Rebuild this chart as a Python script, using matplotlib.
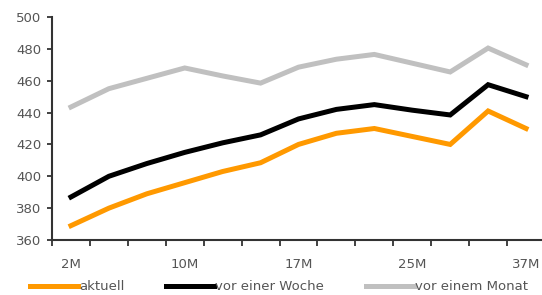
import matplotlib
matplotlib.use("Agg")
import matplotlib.pyplot as plt
import numpy as np

categories = ["2M", "", "", "10M", "", "", "17M", "", "", "25M", "", "", "37M"]
aktuell = [369, 380, 389, 396, 403, 408.5, 420, 427, 430, 425, 420, 441, 430]
vor_woche = [387, 400, 408, 415, 421, 426, 436, 442, 445, 441.5, 438.5, 457.5, 450]
vor_monat = [443.5, 455, 461.5, 468, 463, 458.5, 468.5, 473.5, 476.5, 471, 465.5, 480.5, 470]
series_names = ["aktuell", "vor einer Woche", "vor einem Monat"]
colors = ["#FF9900", "#000000", "#C0C0C0"]

plt.rcParams['font.family'] = ['DejaVu Sans']
fig = plt.figure(figsize=(5.42, 2.95), dpi=100)
ax = fig.add_axes([52/542, 1-240/295, 493/542, 223/295])

x = np.arange(len(categories))
for vals, name, c in zip([aktuell, vor_woche, vor_monat], series_names, colors):
    ax.plot(x, vals, color=c, lw=3.6, label=name, solid_joinstyle='miter')

ax.set_xlim(-0.5, len(categories) - 0.5)
ax.set_ylim(360, 500)
ax.set_yticks(np.arange(360, 501, 20))
ax.set_xticks(np.arange(-0.5, len(categories), 1))
ax.set_xticklabels([])
ax.set_xticks(x, minor=True)
ax.set_xticklabels(categories, minor=True)
txtc = "#555555"
ax.tick_params(axis='x', which='major', direction='out', length=4.5, width=1.3, color="#333333")
ax.tick_params(axis='x', which='minor', length=0, pad=13, labelsize=9.5, labelcolor=txtc)
ax.tick_params(axis='y', direction='out', length=3.5, width=1.3, color="#333333", pad=4,
               labelsize=9.5, labelcolor=txtc)
for s in ['top', 'right']:
    ax.spines[s].set_visible(False)
for s in ['left', 'bottom']:
    ax.spines[s].set_color("#333333")
    ax.spines[s].set_linewidth(1.5)

leg = fig.legend(loc='center left', bbox_to_anchor=(30/542, 1-287/295), ncol=3,
                 frameon=False, fontsize=9.5, handlelength=3.6, handletextpad=0.1,
                 columnspacing=3.2, borderpad=0, borderaxespad=0)
for t in leg.get_texts():
    t.set_color(txtc)
for h in leg.get_lines():
    h.set_linewidth(3.6)

fig.savefig("out.png", dpi=100)
